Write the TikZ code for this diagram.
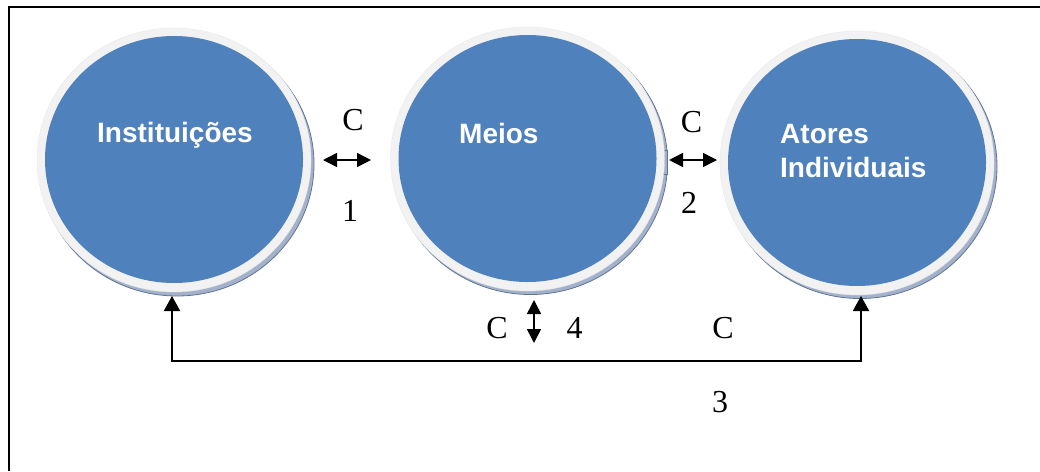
\documentclass[tikz,border=0pt]{standalone}
\usepackage{fontspec}
\setmainfont{Liberation Serif}
\newfontfamily\sansb{Liberation Sans}
\usetikzlibrary{shapes.geometric,arrows.meta}
\definecolor{ofblue}{HTML}{4F81BD}
\definecolor{ringgrey}{HTML}{F2F2F2}
\definecolor{ringedge}{HTML}{E6E6E6}
\definecolor{rimfill}{HTML}{A3B2CA}
\definecolor{rimline}{HTML}{5F7597}
\tikzset{
  rim/.style={ellipse, minimum width=274pt, minimum height=264pt, fill=rimfill, draw=rimline, line width=0.8pt, inner sep=0pt},
  ring/.style={ellipse, minimum width=274pt, minimum height=264pt, fill=ringgrey, draw=ringedge, line width=0.3pt, inner sep=0pt},
  disc/.style={ellipse, minimum width=258pt, minimum height=247pt, fill=ofblue, inner sep=0pt},
  ctext/.style={font=\sansb\bfseries\fontsize{28}{34}\selectfont, text=white, anchor=base west, inner sep=0pt},
  lab/.style={font=\fontsize{32}{36}\selectfont, anchor=base, inner sep=0pt},
  dbl/.style={{Triangle[length=14pt,width=14pt]}-{Triangle[length=14pt,width=14pt]}, line width=1.5pt},
  loopline/.style={{Triangle[length=15pt,width=16pt]}-{Triangle[length=15pt,width=16pt]}, line width=2pt}
}
\begin{document}
\begin{tikzpicture}[x=1pt,y=-1pt]
\useasboundingbox (0,0) rectangle (1040,471);
% frame
\draw[line width=2.2pt] (9,471) -- (9,7) -- (1040,7);

% circle 1
\node[rim] (instrim) at (177,164) {};
\node[ring] (instring) at (174,160) {};
\node[disc] (inst) at (174,159.5) {};
\node[ctext] (insttxt) at (97,142) {Instituições};

% circle 2
\node[rim] (meiosrim) at (530.5,162.5) {};
\node[fill=rimfill, draw=rimline, line width=0.5pt, minimum width=4pt, minimum height=24pt, inner sep=0pt] (meiostab) at (665,162) {};
\node[ring] (meiosring) at (527.5,159) {};
\node[disc] (meios) at (527.5,158.5) {};
\node[ctext] (meiostxt) at (459,143) {Meios};

% circle 3
\node[rim] (atrim) at (860,166.5) {};
\node[ring] (atring) at (857,163) {};
\node[disc] (atores) at (857,162.5) {};
\node[ctext] (attxt1) at (780,143) {Atores};
\node[ctext] (attxt2) at (780,177) {Individuais};

% connector 1
\coordinate (a1l) at (323,160);
\coordinate (a1r) at (371,160);
\draw[dbl] (a1l) -- (a1r);
\node[lab] (c1) at (353,130) {C};
\node[lab] (n1) at (350,221) {1};

% connector 2
\coordinate (a2l) at (669,160);
\coordinate (a2r) at (717,160);
\draw[dbl] (a2l) -- (a2r);
\node[lab] (c2) at (691.5,132) {C};
\node[lab] (n2) at (689,213) {2};

% connector 4
\coordinate (a4t) at (534,300);
\coordinate (a4b) at (534,343);
\draw[dbl] (a4t) -- (a4b);
\node[lab] (c4) at (497,338) {C};
\node[lab] (n4) at (574.5,338) {4};

% connector 3
\coordinate (a3l) at (172,296);
\coordinate (a3r) at (861,296);
\coordinate (a3y) at (0,361);
\draw[loopline] (a3l) -- (a3l |- a3y) -- (a3r |- a3y) -- (a3r);
\node[lab] (c3) at (723,338) {C};
\node[lab] (n3) at (720,412) {3};
\end{tikzpicture}
\end{document}
